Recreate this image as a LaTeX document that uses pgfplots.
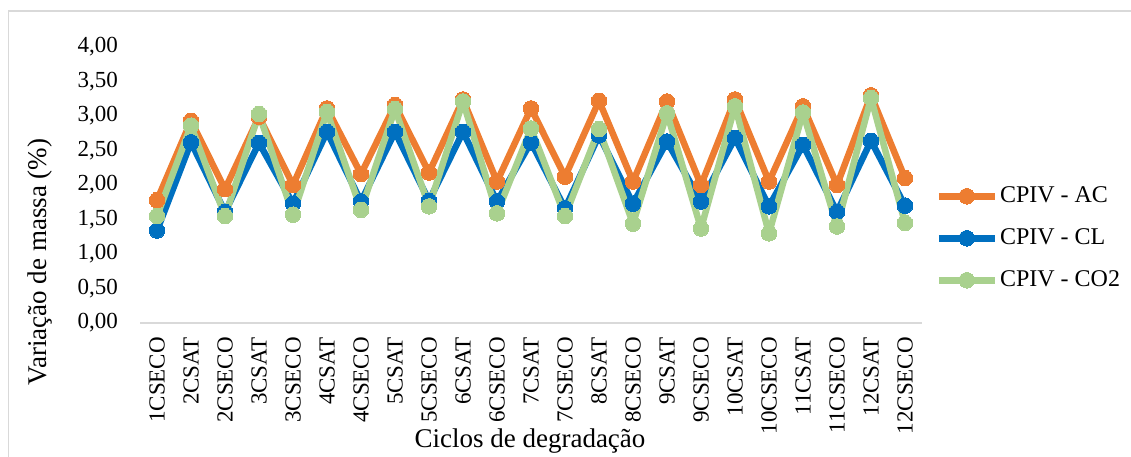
\documentclass[border=0pt]{standalone}
\usepackage{pgfplots}
\pgfplotsset{compat=1.18}
\usepackage{fontspec}
\setmainfont{Liberation Serif}
\definecolor{cAC}{HTML}{ED7D31}
\definecolor{cCL}{HTML}{0070C0}
\definecolor{cCO}{HTML}{A9D18E}
\definecolor{grid}{HTML}{D9D9D9}
\begin{document}
\begin{tikzpicture}[x=1pt,y=1pt]
\useasboundingbox (0,0) rectangle (1131,456);
\draw[grid, line width=1.3pt] (8.5,-20) -- (8.5,445) -- (1140,445);
\begin{axis}[
  at={(140pt,133pt)}, anchor=south west,
  scale only axis, width=782pt, height=276pt,
  xmin=-0.5, xmax=22.5, ymin=0, ymax=4,
  axis x line*=bottom, axis y line*=left,
  x axis line style={draw=grid, line width=1.5pt, -},
  y axis line style={draw=none},
  major tick length=0pt,
  xtick={0,...,22},
  xticklabels={1CSECO,2CSAT,2CSECO,3CSAT,3CSECO,4CSAT,4CSECO,5CSAT,5CSECO,6CSAT,6CSECO,7CSAT,7CSECO,8CSAT,8CSECO,9CSAT,9CSECO,10CSAT,10CSECO,11CSAT,11CSECO,12CSAT,12CSECO},
  xticklabel style={rotate=90, anchor=east, inner sep=0pt, xshift=-14pt, font=\fontsize{23}{27}\selectfont},
  ytick={0,0.5,...,4},
  yticklabel style={anchor=east, inner sep=0pt, xshift=-22pt, font=\fontsize{23}{27}\selectfont},
  /pgf/number format/.cd, use comma, fixed, fixed zerofill, precision=2, assume math mode=true,
  /pgfplots/.cd,
  xlabel={Ciclos de degradação},
  xlabel style={font=\fontsize{27}{30}\selectfont, at={(axis description cs:0.4987,-0.4275)}, anchor=center},
  ylabel={Variação de massa (\%)},
  ylabel style={font=\fontsize{27}{30}\selectfont, at={(axis description cs:-0.1279,0.221)}, anchor=center},
  legend style={at={(rel axis cs:1.0170,0.307)}, anchor=west, draw=none, fill=none,
    font=\fontsize{24}{27}\selectfont, inner sep=0pt, row sep=16pt,
    nodes={inner sep=2pt, text height=17pt, text depth=5pt}},
  legend cell align=left,
  legend image code/.code={\draw[#1, mark repeat=2, mark phase=2] plot coordinates {(0pt,0pt) (28pt,0pt) (56pt,0pt)};},
  every axis plot/.append style={line width=6.5pt, mark=*, mark size=7.8pt, line join=round},
]
\addplot[color=cAC, mark options={fill=cAC, draw=cAC, line width=0pt}] coordinates {
(0,1.78) (1,2.93) (2,1.94) (3,2.99) (4,2.00) (5,3.11) (6,2.16) (7,3.16) (8,2.18) (9,3.24) (10,2.05) (11,3.11) (12,2.12) (13,3.22) (14,2.05) (15,3.21) (16,2.00) (17,3.24) (18,2.05) (19,3.14) (20,2.00) (21,3.30) (22,2.10)};
\addlegendentry{CPIV - AC}
\addplot[color=cCL, mark options={fill=cCL, draw=cCL, line width=0pt}] coordinates {
(0,1.34) (1,2.62) (2,1.61) (3,2.61) (4,1.73) (5,2.77) (6,1.76) (7,2.77) (8,1.77) (9,2.77) (10,1.76) (11,2.62) (12,1.66) (13,2.72) (14,1.73) (15,2.63) (16,1.76) (17,2.68) (18,1.69) (19,2.58) (20,1.61) (21,2.64) (22,1.70)};
\addlegendentry{CPIV - CL}
\addplot[color=cCO, mark options={fill=cCO, draw=cCO, line width=0pt}] coordinates {
(0,1.55) (1,2.86) (2,1.55) (3,3.03) (4,1.57) (5,3.06) (6,1.64) (7,3.10) (8,1.69) (9,3.21) (10,1.59) (11,2.82) (12,1.55) (13,2.81) (14,1.44) (15,3.04) (16,1.37) (17,3.14) (18,1.30) (19,3.05) (20,1.40) (21,3.26) (22,1.45)};
\addlegendentry{CPIV - CO2}
\end{axis}
\end{tikzpicture}
\end{document}
